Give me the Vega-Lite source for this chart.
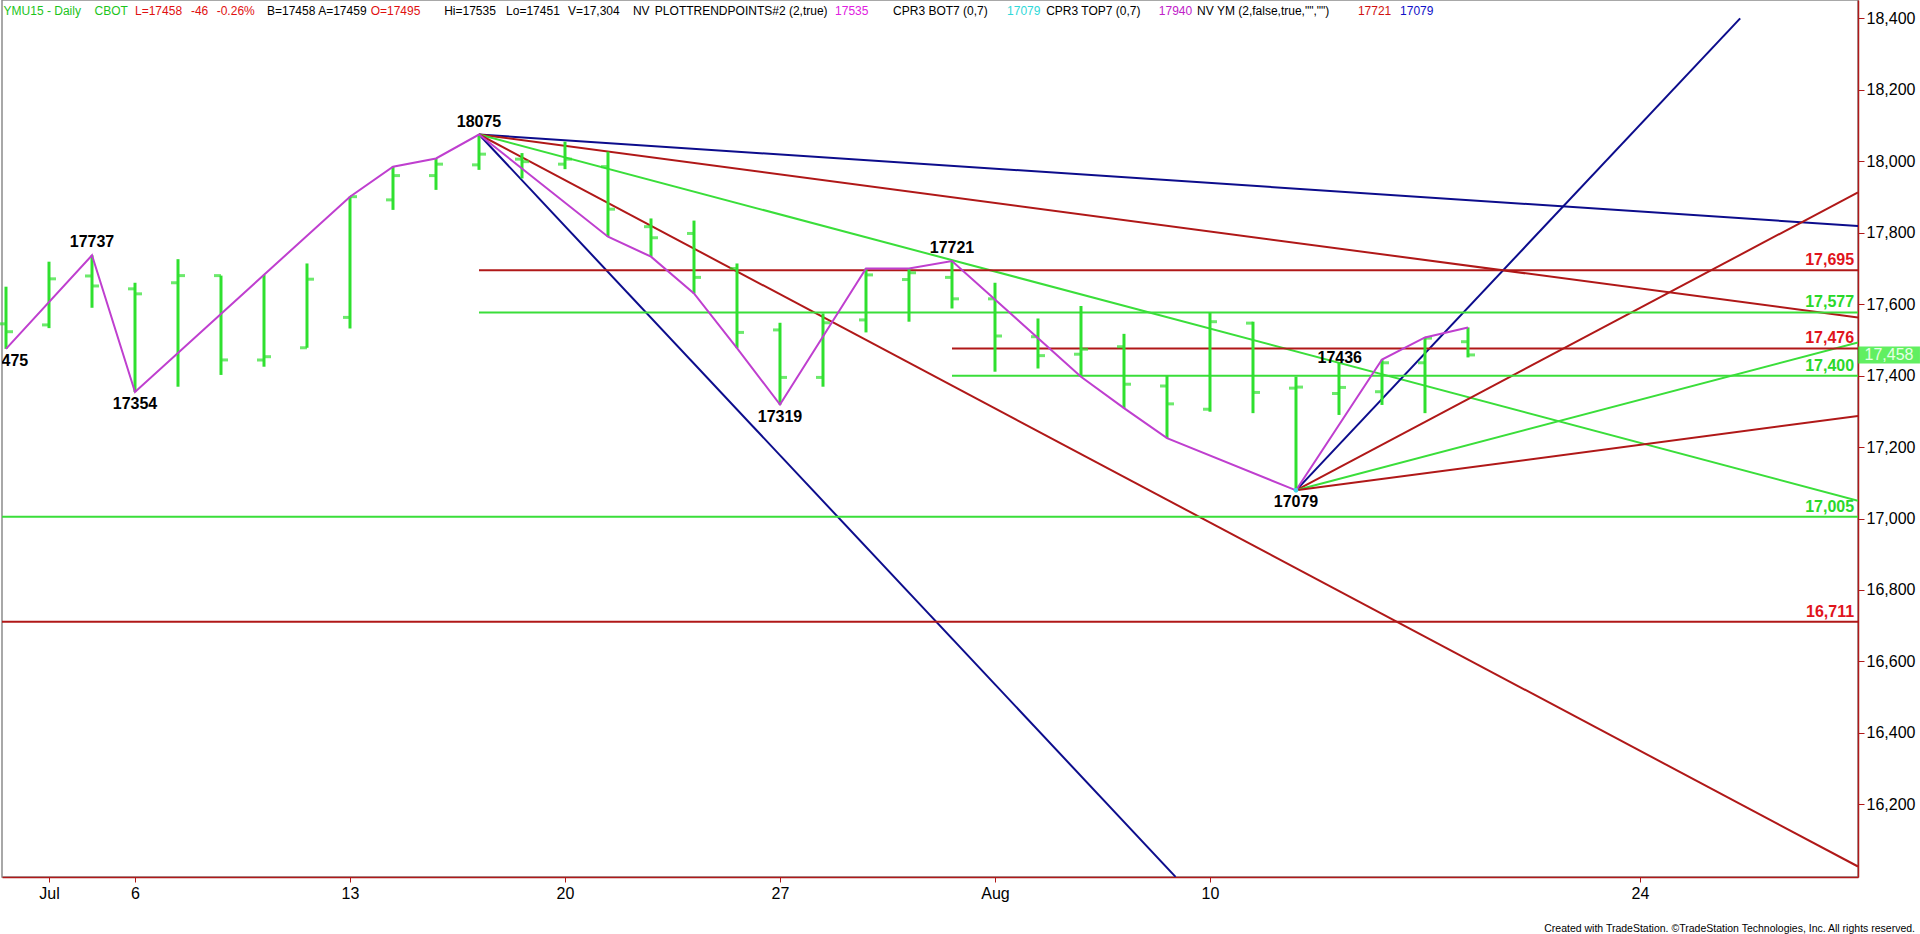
{
  "$schema": "https://vega.github.io/schema/vega-lite/v6.json",
  "width": 1856,
  "height": 877,
  "autosize": {"type": "none"},
  "padding": {"left": 2, "top": 0, "right": 62, "bottom": 57},
  "background": "#ffffff",
  "config": {
    "view": {"stroke": "#8c8c8c", "strokeWidth": 1.5},
    "axis": {"grid": false},
    "text": {"font": "Liberation Sans"}
  },
  "title": {
    "text": "Created with TradeStation. ©TradeStation Technologies, Inc. All rights reserved.",
    "orient": "bottom",
    "anchor": "end",
    "frame": "group",
    "font": "Liberation Sans",
    "fontSize": 10.5,
    "fontWeight": "normal",
    "color": "#000000",
    "offset": 23,
    "dx": 57
  },
  "datasets": {
    "bars": [
      {"date": "2015-06-30", "i": 0, "open": 17545, "high": 17649, "low": 17475, "close": 17523},
      {"date": "2015-07-01", "i": 1, "open": 17542, "high": 17719, "low": 17533, "close": 17671},
      {"date": "2015-07-02", "i": 2, "open": 17679, "high": 17737, "low": 17590, "close": 17651},
      {"date": "2015-07-06", "i": 3, "open": 17643, "high": 17660, "low": 17354, "close": 17629},
      {"date": "2015-07-07", "i": 4, "open": 17660, "high": 17726, "low": 17369, "close": 17680},
      {"date": "2015-07-08", "i": 5, "open": 17680, "high": 17680, "low": 17402, "close": 17444},
      {"date": "2015-07-09", "i": 6, "open": 17444, "high": 17682, "low": 17425, "close": 17453},
      {"date": "2015-07-10", "i": 7, "open": 17478, "high": 17714, "low": 17478, "close": 17670},
      {"date": "2015-07-13", "i": 8, "open": 17563, "high": 17901, "low": 17532, "close": 17901},
      {"date": "2015-07-14", "i": 9, "open": 17892, "high": 17985, "low": 17864, "close": 17960},
      {"date": "2015-07-15", "i": 10, "open": 17960, "high": 18008, "low": 17920, "close": 17992},
      {"date": "2015-07-16", "i": 11, "open": 17990, "high": 18075, "low": 17976, "close": 18020},
      {"date": "2015-07-17", "i": 12, "open": 18006, "high": 18023, "low": 17952, "close": 17999},
      {"date": "2015-07-20", "i": 13, "open": 17992, "high": 18055, "low": 17978, "close": 18006},
      {"date": "2015-07-21", "i": 14, "open": 17985, "high": 18027, "low": 17789, "close": 17866},
      {"date": "2015-07-22", "i": 15, "open": 17817, "high": 17840, "low": 17733, "close": 17786},
      {"date": "2015-07-23", "i": 16, "open": 17798, "high": 17834, "low": 17630, "close": 17675},
      {"date": "2015-07-24", "i": 17, "open": 17700, "high": 17714, "low": 17477, "close": 17521},
      {"date": "2015-07-27", "i": 18, "open": 17528, "high": 17548, "low": 17319, "close": 17395},
      {"date": "2015-07-28", "i": 19, "open": 17395, "high": 17574, "low": 17369, "close": 17548},
      {"date": "2015-07-29", "i": 20, "open": 17556, "high": 17700, "low": 17521, "close": 17682},
      {"date": "2015-07-30", "i": 21, "open": 17669, "high": 17700, "low": 17551, "close": 17688},
      {"date": "2015-07-31", "i": 22, "open": 17675, "high": 17721, "low": 17588, "close": 17615},
      {"date": "2015-08-03", "i": 23, "open": 17615, "high": 17660, "low": 17411, "close": 17511},
      {"date": "2015-08-04", "i": 24, "open": 17509, "high": 17560, "low": 17420, "close": 17456},
      {"date": "2015-08-05", "i": 25, "open": 17460, "high": 17595, "low": 17397, "close": 17474},
      {"date": "2015-08-06", "i": 26, "open": 17481, "high": 17517, "low": 17309, "close": 17376},
      {"date": "2015-08-07", "i": 27, "open": 17371, "high": 17399, "low": 17225, "close": 17321},
      {"date": "2015-08-10", "i": 28, "open": 17306, "high": 17576, "low": 17299, "close": 17551},
      {"date": "2015-08-11", "i": 29, "open": 17547, "high": 17551, "low": 17295, "close": 17353},
      {"date": "2015-08-12", "i": 30, "open": 17365, "high": 17397, "low": 17079, "close": 17368},
      {"date": "2015-08-13", "i": 31, "open": 17350, "high": 17436, "low": 17290, "close": 17367},
      {"date": "2015-08-14", "i": 32, "open": 17355, "high": 17445, "low": 17318, "close": 17436},
      {"date": "2015-08-17", "i": 33, "open": 17436, "high": 17507, "low": 17295, "close": 17505},
      {"date": "2015-08-18", "i": 34, "open": 17495, "high": 17535, "low": 17451, "close": 17458}
    ],
    "trend": [
      {"line": "fanA1", "kind": "navy", "i": 11, "v": 18075},
      {"line": "fanA1", "kind": "navy", "i": 43.07, "v": 17819},
      {"line": "fanA2", "kind": "darkred", "i": 11, "v": 18075},
      {"line": "fanA2", "kind": "darkred", "i": 43.07, "v": 17563},
      {"line": "fanA3", "kind": "green", "i": 11, "v": 18075},
      {"line": "fanA3", "kind": "green", "i": 43.07, "v": 17050},
      {"line": "fanA4", "kind": "darkred", "i": 11, "v": 18075},
      {"line": "fanA4", "kind": "darkred", "i": 43.07, "v": 16026},
      {"line": "fanA5", "kind": "navy", "i": 11, "v": 18075},
      {"line": "fanA5", "kind": "navy", "i": 27.2, "v": 15997},
      {"line": "fanB1", "kind": "navy", "i": 30, "v": 17079},
      {"line": "fanB1", "kind": "navy", "i": 40.33, "v": 18400},
      {"line": "fanB2", "kind": "darkred", "i": 30, "v": 17079},
      {"line": "fanB2", "kind": "darkred", "i": 43.07, "v": 17913},
      {"line": "fanB3", "kind": "green", "i": 30, "v": 17079},
      {"line": "fanB3", "kind": "green", "i": 43.07, "v": 17493},
      {"line": "fanB4", "kind": "darkred", "i": 30, "v": 17079},
      {"line": "fanB4", "kind": "darkred", "i": 43.07, "v": 17287},
      {"line": "lvl17695", "kind": "darkred", "i": 11, "v": 17695},
      {"line": "lvl17695", "kind": "darkred", "i": 43.07, "v": 17695},
      {"line": "lvl17577", "kind": "green", "i": 11, "v": 17577},
      {"line": "lvl17577", "kind": "green", "i": 43.07, "v": 17577},
      {"line": "lvl17476", "kind": "darkred", "i": 22, "v": 17476},
      {"line": "lvl17476", "kind": "darkred", "i": 43.07, "v": 17476},
      {"line": "lvl17400", "kind": "green", "i": 22, "v": 17400},
      {"line": "lvl17400", "kind": "green", "i": 43.07, "v": 17400},
      {"line": "lvl17005", "kind": "green", "i": -0.093, "v": 17005},
      {"line": "lvl17005", "kind": "green", "i": 43.07, "v": 17005},
      {"line": "lvl16711", "kind": "darkred", "i": -0.093, "v": 16711},
      {"line": "lvl16711", "kind": "darkred", "i": 43.07, "v": 16711}
    ],
    "zigzag": [
      {"i": 0, "v": 17475}, {"i": 2, "v": 17737}, {"i": 3, "v": 17354},
      {"i": 8, "v": 17901}, {"i": 9, "v": 17985}, {"i": 10, "v": 18008},
      {"i": 11, "v": 18075}, {"i": 14, "v": 17789}, {"i": 15, "v": 17733},
      {"i": 16, "v": 17630}, {"i": 17, "v": 17477}, {"i": 18, "v": 17319},
      {"i": 20, "v": 17700}, {"i": 21, "v": 17700}, {"i": 22, "v": 17721},
      {"i": 25, "v": 17397}, {"i": 26, "v": 17309}, {"i": 27, "v": 17225},
      {"i": 30, "v": 17079}, {"i": 32, "v": 17445}, {"i": 33, "v": 17507},
      {"i": 34, "v": 17535}
    ],
    "pivots": [
      {"i": 0, "v": 17475, "label": "17475", "pos": "below"},
      {"i": 2, "v": 17737, "label": "17737", "pos": "above"},
      {"i": 3, "v": 17354, "label": "17354", "pos": "below"},
      {"i": 11, "v": 18075, "label": "18075", "pos": "above"},
      {"i": 18, "v": 17319, "label": "17319", "pos": "below"},
      {"i": 22, "v": 17721, "label": "17721", "pos": "above"},
      {"i": 30, "v": 17079, "label": "17079", "pos": "below"},
      {"i": 32, "v": 17445, "label": "17436", "pos": "left"}
    ],
    "levels": [
      {"v": 17695, "label": "17,695", "kind": "red"},
      {"v": 17577, "label": "17,577", "kind": "green"},
      {"v": 17476, "label": "17,476", "kind": "red"},
      {"v": 17400, "label": "17,400", "kind": "green"},
      {"v": 17005, "label": "17,005", "kind": "green"},
      {"v": 16711, "label": "16,711", "kind": "red"}
    ]
  },
  "resolve": {"scale": {"color": "independent"}},
  "layer": [
    {
      "data": {"name": "trend"},
      "mark": {"type": "line", "strokeWidth": 2, "clip": true},
      "encoding": {
        "x": {
          "field": "i", "type": "quantitative",
          "scale": {"domain": [-0.093, 43.07], "nice": false, "zero": false},
          "axis": {
            "title": null,
            "values": [1, 3, 8, 13, 18, 23, 28, 38],
            "labelExpr": "datum.value == 1 ? 'Jul' : datum.value == 3 ? '6' : datum.value == 8 ? '13' : datum.value == 13 ? '20' : datum.value == 18 ? '27' : datum.value == 23 ? 'Aug' : datum.value == 28 ? '10' : '24'",
            "domainColor": "#b01818", "domainWidth": 1.5,
            "tickColor": "#b01818", "tickSize": 5,
            "labelFont": "Liberation Sans", "labelFontSize": 16,
            "labelColor": "#000000", "labelPadding": 3
          }
        },
        "y": {
          "field": "v", "type": "quantitative",
          "scale": {"domain": [15996.6, 18451.5], "nice": false, "zero": false},
          "axis": {
            "title": null, "orient": "right",
            "values": [16200, 16400, 16600, 16800, 17000, 17200, 17400, 17600, 17800, 18000, 18200, 18400],
            "labelExpr": "format(datum.value, ',')",
            "domainColor": "#b01818", "domainWidth": 1.5,
            "tickColor": "#b01818", "tickSize": 6,
            "labelFont": "Liberation Sans", "labelFontSize": 16,
            "labelColor": "#000000", "labelPadding": 2
          }
        },
        "detail": {"field": "line"},
        "color": {
          "field": "kind", "type": "nominal",
          "scale": {"domain": ["navy", "darkred", "green"], "range": ["#0c0c8c", "#b01818", "#3ade3a"]},
          "legend": null
        }
      }
    },
    {
      "data": {"name": "bars"},
      "mark": {"type": "rule", "strokeWidth": 3, "color": "#2fe02f"},
      "encoding": {
        "x": {"field": "i", "type": "quantitative"},
        "y": {"field": "low", "type": "quantitative"},
        "y2": {"field": "high"}
      }
    },
    {
      "data": {"name": "bars"},
      "mark": {"type": "tick", "orient": "horizontal", "size": 7, "thickness": 3, "xOffset": -3.5, "color": "#2fe02f"},
      "encoding": {
        "x": {"field": "i", "type": "quantitative"},
        "y": {"field": "open", "type": "quantitative"}
      }
    },
    {
      "data": {"name": "bars"},
      "mark": {"type": "tick", "orient": "horizontal", "size": 7, "thickness": 3, "xOffset": 3.5, "color": "#2fe02f"},
      "encoding": {
        "x": {"field": "i", "type": "quantitative"},
        "y": {"field": "close", "type": "quantitative"}
      }
    },
    {
      "data": {"name": "zigzag"},
      "mark": {"type": "line", "strokeWidth": 2, "color": "#bf3fcf"},
      "encoding": {
        "x": {"field": "i", "type": "quantitative"},
        "y": {"field": "v", "type": "quantitative"},
        "order": {"field": "i"}
      }
    },
    {
      "data": {"values": [{"i": 30, "v": 17079}]},
      "mark": {"type": "circle", "size": 22, "color": "#3fd8e8", "opacity": 1},
      "encoding": {
        "x": {"field": "i", "type": "quantitative"},
        "y": {"field": "v", "type": "quantitative"}
      }
    },
    {
      "data": {"name": "pivots"},
      "transform": [{"filter": "datum.pos == 'above'"}],
      "mark": {"type": "text", "font": "Liberation Sans", "fontSize": 16, "fontWeight": "bold", "color": "#000000", "baseline": "middle", "align": "center", "dy": -13},
      "encoding": {
        "x": {"field": "i", "type": "quantitative"},
        "y": {"field": "v", "type": "quantitative"},
        "text": {"field": "label"}
      }
    },
    {
      "data": {"name": "pivots"},
      "transform": [{"filter": "datum.pos == 'below'"}],
      "mark": {"type": "text", "font": "Liberation Sans", "fontSize": 16, "fontWeight": "bold", "color": "#000000", "baseline": "middle", "align": "center", "dy": 12, "clip": true},
      "encoding": {
        "x": {"field": "i", "type": "quantitative"},
        "y": {"field": "v", "type": "quantitative"},
        "text": {"field": "label"}
      }
    },
    {
      "data": {"name": "pivots"},
      "transform": [{"filter": "datum.pos == 'left'"}],
      "mark": {"type": "text", "font": "Liberation Sans", "fontSize": 16, "fontWeight": "bold", "color": "#000000", "baseline": "middle", "align": "right", "dx": -20, "dy": -2},
      "encoding": {
        "x": {"field": "i", "type": "quantitative"},
        "y": {"field": "v", "type": "quantitative"},
        "text": {"field": "label"}
      }
    },
    {
      "data": {"name": "levels"},
      "mark": {"type": "text", "font": "Liberation Sans", "fontSize": 16, "fontWeight": "bold", "baseline": "alphabetic", "align": "right", "dy": -5},
      "encoding": {
        "x": {"datum": 42.98},
        "y": {"field": "v", "type": "quantitative"},
        "text": {"field": "label"},
        "color": {
          "field": "kind", "type": "nominal",
          "scale": {"domain": ["red", "green"], "range": ["#e0141c", "#2ad82a"]},
          "legend": null
        }
      }
    },
    {
      "data": {"values": [{"last": 17458}]},
      "mark": {"type": "tick", "orient": "horizontal", "size": 62, "thickness": 17, "color": "#1ee81e"},
      "encoding": {
        "x": {"datum": 43.79},
        "y": {"field": "last", "type": "quantitative"}
      }
    },
    {
      "data": {"values": [{"last": 17458}]},
      "mark": {"type": "text", "font": "Liberation Sans", "fontSize": 16, "color": "#e6ffe6", "baseline": "middle", "align": "center"},
      "encoding": {
        "x": {"datum": 43.79},
        "y": {"field": "last", "type": "quantitative"},
        "text": {"field": "last", "format": ","}
      }
    },
    {
      "data": {"values": [{"text": "YMU15 - Daily"}]},
      "mark": {"type": "text", "fontSize": 12, "color": "#1cc41c", "align": "left", "baseline": "middle"},
      "encoding": {"x": {"datum": -0.056}, "y": {"datum": 18421}, "text": {"field": "text"}}
    },
    {
      "data": {"values": [{"text": "CBOT"}]},
      "mark": {"type": "text", "fontSize": 12, "color": "#1cc41c", "align": "left", "baseline": "middle"},
      "encoding": {"x": {"datum": 2.06}, "y": {"datum": 18421}, "text": {"field": "text"}}
    },
    {
      "data": {"values": [{"text": "L=17458"}]},
      "mark": {"type": "text", "fontSize": 12, "color": "#e01010", "align": "left", "baseline": "middle"},
      "encoding": {"x": {"datum": 3.0}, "y": {"datum": 18421}, "text": {"field": "text"}}
    },
    {
      "data": {"values": [{"text": "-46"}]},
      "mark": {"type": "text", "fontSize": 12, "color": "#e01010", "align": "left", "baseline": "middle"},
      "encoding": {"x": {"datum": 4.3}, "y": {"datum": 18421}, "text": {"field": "text"}}
    },
    {
      "data": {"values": [{"text": "-0.26%"}]},
      "mark": {"type": "text", "fontSize": 12, "color": "#e01010", "align": "left", "baseline": "middle"},
      "encoding": {"x": {"datum": 4.9}, "y": {"datum": 18421}, "text": {"field": "text"}}
    },
    {
      "data": {"values": [{"text": "B=17458"}]},
      "mark": {"type": "text", "fontSize": 12, "color": "#000000", "align": "left", "baseline": "middle"},
      "encoding": {"x": {"datum": 6.07}, "y": {"datum": 18421}, "text": {"field": "text"}}
    },
    {
      "data": {"values": [{"text": "A=17459"}]},
      "mark": {"type": "text", "fontSize": 12, "color": "#000000", "align": "left", "baseline": "middle"},
      "encoding": {"x": {"datum": 7.26}, "y": {"datum": 18421}, "text": {"field": "text"}}
    },
    {
      "data": {"values": [{"text": "O=17495"}]},
      "mark": {"type": "text", "fontSize": 12, "color": "#e01010", "align": "left", "baseline": "middle"},
      "encoding": {"x": {"datum": 8.48}, "y": {"datum": 18421}, "text": {"field": "text"}}
    },
    {
      "data": {"values": [{"text": "Hi=17535"}]},
      "mark": {"type": "text", "fontSize": 12, "color": "#000000", "align": "left", "baseline": "middle"},
      "encoding": {"x": {"datum": 10.19}, "y": {"datum": 18421}, "text": {"field": "text"}}
    },
    {
      "data": {"values": [{"text": "Lo=17451"}]},
      "mark": {"type": "text", "fontSize": 12, "color": "#000000", "align": "left", "baseline": "middle"},
      "encoding": {"x": {"datum": 11.63}, "y": {"datum": 18421}, "text": {"field": "text"}}
    },
    {
      "data": {"values": [{"text": "V=17,304"}]},
      "mark": {"type": "text", "fontSize": 12, "color": "#000000", "align": "left", "baseline": "middle"},
      "encoding": {"x": {"datum": 13.07}, "y": {"datum": 18421}, "text": {"field": "text"}}
    },
    {
      "data": {"values": [{"text": "NV"}]},
      "mark": {"type": "text", "fontSize": 12, "color": "#000000", "align": "left", "baseline": "middle"},
      "encoding": {"x": {"datum": 14.58}, "y": {"datum": 18421}, "text": {"field": "text"}}
    },
    {
      "data": {"values": [{"text": "PLOTTRENDPOINTS#2 (2,true)"}]},
      "mark": {"type": "text", "fontSize": 12, "color": "#000000", "align": "left", "baseline": "middle"},
      "encoding": {"x": {"datum": 15.09}, "y": {"datum": 18421}, "text": {"field": "text"}}
    },
    {
      "data": {"values": [{"text": "17535"}]},
      "mark": {"type": "text", "fontSize": 12, "color": "#e020e0", "align": "left", "baseline": "middle"},
      "encoding": {"x": {"datum": 19.28}, "y": {"datum": 18421}, "text": {"field": "text"}}
    },
    {
      "data": {"values": [{"text": "CPR3 BOT7 (0,7)"}]},
      "mark": {"type": "text", "fontSize": 12, "color": "#000000", "align": "left", "baseline": "middle"},
      "encoding": {"x": {"datum": 20.63}, "y": {"datum": 18421}, "text": {"field": "text"}}
    },
    {
      "data": {"values": [{"text": "17079"}]},
      "mark": {"type": "text", "fontSize": 12, "color": "#30d8d8", "align": "left", "baseline": "middle"},
      "encoding": {"x": {"datum": 23.28}, "y": {"datum": 18421}, "text": {"field": "text"}}
    },
    {
      "data": {"values": [{"text": "CPR3 TOP7 (0,7)"}]},
      "mark": {"type": "text", "fontSize": 12, "color": "#000000", "align": "left", "baseline": "middle"},
      "encoding": {"x": {"datum": 24.19}, "y": {"datum": 18421}, "text": {"field": "text"}}
    },
    {
      "data": {"values": [{"text": "17940"}]},
      "mark": {"type": "text", "fontSize": 12, "color": "#c020c8", "align": "left", "baseline": "middle"},
      "encoding": {"x": {"datum": 26.81}, "y": {"datum": 18421}, "text": {"field": "text"}}
    },
    {
      "data": {"values": [{"text": "NV YM (2,false,true,\"\",\"\")"}]},
      "mark": {"type": "text", "fontSize": 12, "color": "#000000", "align": "left", "baseline": "middle"},
      "encoding": {"x": {"datum": 27.7}, "y": {"datum": 18421}, "text": {"field": "text"}}
    },
    {
      "data": {"values": [{"text": "17721"}]},
      "mark": {"type": "text", "fontSize": 12, "color": "#d01010", "align": "left", "baseline": "middle"},
      "encoding": {"x": {"datum": 31.44}, "y": {"datum": 18421}, "text": {"field": "text"}}
    },
    {
      "data": {"values": [{"text": "17079"}]},
      "mark": {"type": "text", "fontSize": 12, "color": "#1010c8", "align": "left", "baseline": "middle"},
      "encoding": {"x": {"datum": 32.42}, "y": {"datum": 18421}, "text": {"field": "text"}}
    }
  ]
}
